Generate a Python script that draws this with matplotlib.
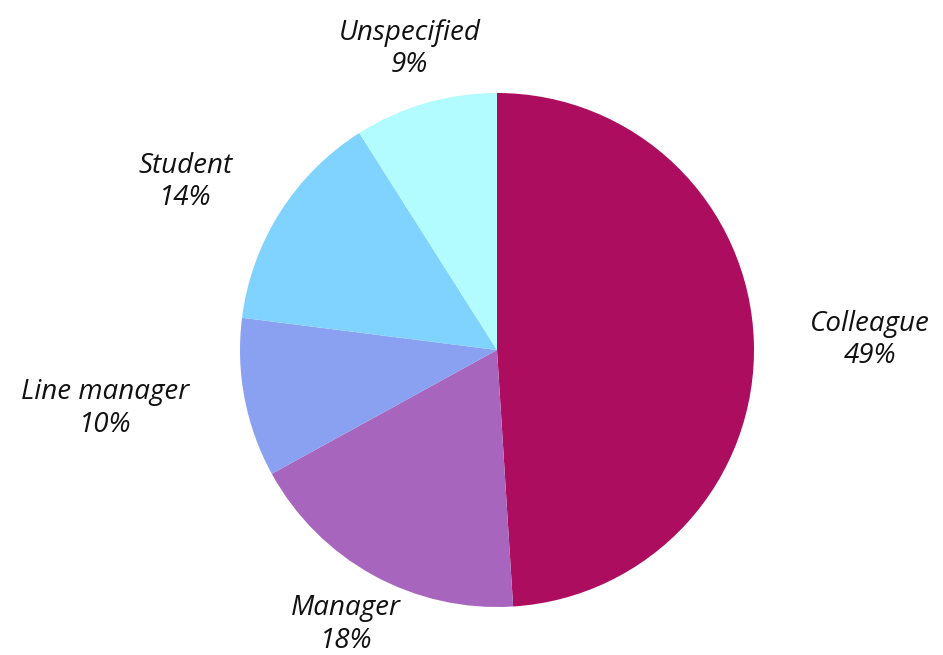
import numpy as np
import matplotlib.pyplot as plt

labels = ["Colleague", "Manager", "Line manager", "Student", "Unspecified"]
shares = [49, 18, 10, 14, 9]
colors = ["#ad0d5e", "#a865bd", "#8aa0f0", "#80d3ff", "#b2fbff"]

plt.rcParams["font.family"] = ["Open Sans", "DejaVu Sans"]

fig = plt.figure(figsize=(9.43, 6.55), dpi=100, facecolor="w")
ax = fig.add_axes([240 / 943, 48 / 655, 514 / 943, 514 / 655])

wedges, _ = ax.pie(shares, colors=colors, startangle=90, counterclock=False,
                   wedgeprops=dict(linewidth=0))
ax.set_aspect("equal")
ax.set_xlim(-1, 1)
ax.set_ylim(-1, 1)

for w, lab, pct in zip(wedges, labels, shares):
    ang = np.deg2rad((w.theta1 + w.theta2) / 2)
    x, y = 1.22 * np.cos(ang), 1.22 * np.sin(ang)
    if abs(np.cos(ang)) < 0.5:
        ha = "center"
    elif np.cos(ang) > 0:
        ha = "left"
    else:
        ha = "right"
    ax.text(x, y, f"{lab}\n{pct}%", ha=ha, va="center", multialignment="center",
            fontsize=20, style="italic", linespacing=1.22, color="#111111")

fig.savefig("out.png", dpi=100)
